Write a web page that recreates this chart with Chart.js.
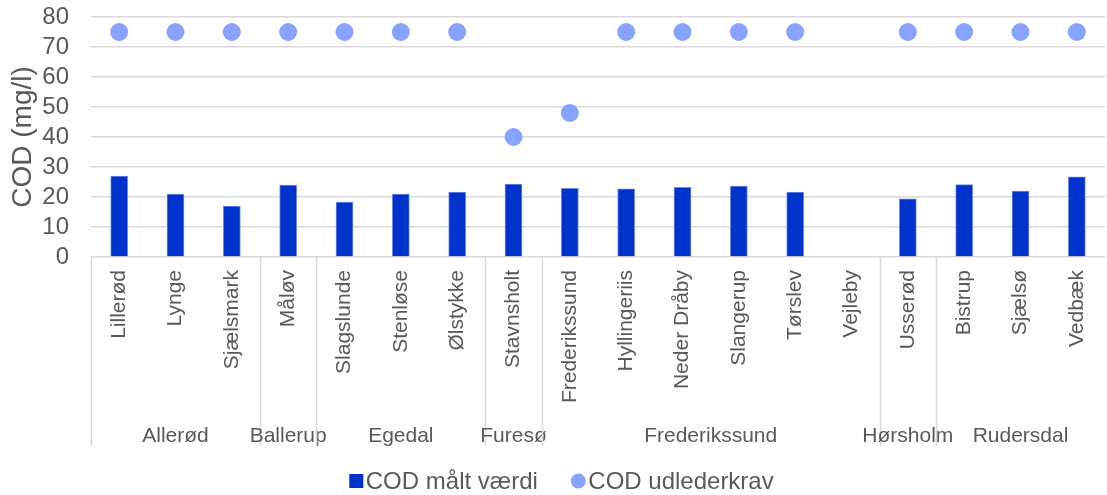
<!DOCTYPE html>
<html>
<head>
<meta charset="utf-8">
<script src="https://cdn.jsdelivr.net/npm/chart.js@4/dist/chart.umd.min.js"></script>
<style>
  html, body { margin: 0; padding: 0; background: #ffffff; overflow: hidden; }
  #wrap { position: relative; width: 1114px; height: 495px; }
</style>
</head>
<body>
<div id="wrap"><canvas id="c" width="1114" height="495"></canvas></div>
<script>
// Treatment plants (category level) and the municipality each belongs to (group level)
const categories = ['Lillerød', 'Lynge', 'Sjælsmark', 'Måløv', 'Slagslunde', 'Stenløse', 'Ølstykke',
  'Stavnsholt', 'Frederikssund', 'Hyllingeriis', 'Neder Dråby', 'Slangerup', 'Tørslev', 'Vejleby',
  'Usserød', 'Bistrup', 'Sjælsø', 'Vedbæk'];
const municipalities = ['Allerød', 'Allerød', 'Allerød', 'Ballerup', 'Egedal', 'Egedal', 'Egedal',
  'Furesø', 'Frederikssund', 'Frederikssund', 'Frederikssund', 'Frederikssund', 'Frederikssund', 'Frederikssund',
  'Hørsholm', 'Rudersdal', 'Rudersdal', 'Rudersdal'];

// COD in mg/l
const measuredCOD = [27.0, 21.0, 17.0, 24.0, 18.3, 21.0, 21.6, 24.3, 22.9, 22.7, 23.2, 23.6, 21.6, null, 19.4, 24.1, 22.0, 26.7];
const dischargeLimit = [75, 75, 75, 75, 75, 75, 75, 40, 48, 75, 75, 75, 75, null, 75, 75, 75, 75];

const seriesNames = ['COD målt værdi', 'COD udlederkrav'];
const yMin = 0, yMax = 80, yStep = 10;
const yTitle = 'COD (mg/l)';

const FONT = "'Liberation Sans', Arial, sans-serif";
const TEXT = '#595959';
const GRID = '#d9d9d9';
const BAR_COLOR = '#0033cc';
const POINT_COLOR = '#87a3ff';

// Second category level: municipality names with separators between groups
const groupAxis = {
  id: 'groupAxis',
  afterDraw(chart) {
    const { ctx, chartArea } = chart;
    const x = chart.scales.x;
    const n = categories.length;
    const lineBottom = 446;
    const runs = [];
    let s = 0;
    for (let i = 1; i <= n; i++) {
      if (i === n || municipalities[i] !== municipalities[s]) {
        runs.push({ name: municipalities[s], start: s, end: i - 1 });
        s = i;
      }
    }
    ctx.save();
    ctx.strokeStyle = GRID;
    ctx.lineWidth = 1.5;
    ctx.fillStyle = TEXT;
    ctx.font = '21px ' + FONT;
    ctx.textAlign = 'center';
    ctx.textBaseline = 'alphabetic';
    runs.forEach(r => {
      const left = r.start === 0 ? chartArea.left
        : (x.getPixelForValue(r.start - 1) + x.getPixelForValue(r.start)) / 2;
      const right = r.end === n - 1 ? chartArea.right
        : (x.getPixelForValue(r.end) + x.getPixelForValue(r.end + 1)) / 2;
      ctx.beginPath();
      ctx.moveTo(Math.round(left) + 0.5, chartArea.bottom);
      ctx.lineTo(Math.round(left) + 0.5, lineBottom);
      ctx.stroke();
      ctx.fillText(r.name, (left + right) / 2, 442);
    });
    ctx.restore();
  }
};

// Legend row below the axis
const legendRow = {
  id: 'legendRow',
  afterDraw(chart) {
    const { ctx } = chart;
    const ds = chart.data.datasets;
    const cy = 481;
    const sq = 14, dot = 15, gapMark = 2.5, gapItem = 33;
    ctx.save();
    ctx.font = '24px ' + FONT;
    ctx.textBaseline = 'middle';
    ctx.textAlign = 'left';
    const w0 = ctx.measureText(ds[0].label).width;
    const w1 = ctx.measureText(ds[1].label).width;
    const total = sq + gapMark + w0 + gapItem + dot + gapMark + w1;
    let xPos = 561.5 - total / 2;
    ctx.fillStyle = ds[0].backgroundColor;
    ctx.fillRect(xPos, cy - sq / 2, sq, sq);
    xPos += sq + gapMark;
    ctx.fillStyle = TEXT;
    ctx.fillText(ds[0].label, xPos, cy + 1);
    xPos += w0 + gapItem;
    ctx.fillStyle = ds[1].pointBackgroundColor;
    ctx.beginPath();
    ctx.arc(xPos + dot / 2, cy, dot / 2, 0, Math.PI * 2);
    ctx.fill();
    xPos += dot + gapMark;
    ctx.fillStyle = TEXT;
    ctx.fillText(ds[1].label, xPos, cy + 1);
    ctx.restore();
  }
};

new Chart(document.getElementById('c'), {
  type: 'bar',
  data: {
    labels: categories,
    datasets: [
      {
        type: 'bar',
        label: seriesNames[0],
        data: measuredCOD,
        backgroundColor: BAR_COLOR,
        borderColor: '#6f8ae6',
        borderWidth: 1,
        barThickness: 17,
        order: 2
      },
      {
        type: 'line',
        label: seriesNames[1],
        data: dischargeLimit,
        showLine: false,
        pointRadius: 9,
        pointHoverRadius: 9,
        pointBackgroundColor: POINT_COLOR,
        pointBorderWidth: 0,
        borderColor: POINT_COLOR,
        backgroundColor: POINT_COLOR,
        order: 1
      }
    ]
  },
  options: {
    responsive: false,
    animation: false,
    layout: { padding: { top: 17, left: 0, right: 0, bottom: 0 } },
    plugins: {
      legend: { display: false },
      tooltip: { enabled: false }
    },
    scales: {
      x: {
        grid: { display: false, drawTicks: false },
        border: { display: false },
        ticks: {
          autoSkip: false,
          maxRotation: 90,
          minRotation: 90,
          padding: 13,
          color: TEXT,
          font: { family: FONT, size: 21 }
        },
        afterFit(scale) {
          scale.height = 238;
          scale.paddingLeft = 0;
          scale.paddingRight = 0;
        }
      },
      y: {
        min: yMin,
        max: yMax,
        grid: { color: GRID, lineWidth: 1.5, drawTicks: false },
        border: { display: false },
        ticks: {
          stepSize: yStep,
          autoSkip: false,
          padding: 22,
          color: TEXT,
          font: { family: FONT, size: 24 }
        },
        title: {
          display: true,
          text: yTitle,
          color: TEXT,
          font: { family: FONT, size: 28 },
          padding: { top: 6, bottom: 0 }
        },
        afterFit(scale) {
          scale.width = 91;
          scale.paddingTop = 0;
          scale.paddingBottom = 0;
        }
      }
    }
  },
  plugins: [groupAxis, legendRow]
});
</script>
</body>
</html>
